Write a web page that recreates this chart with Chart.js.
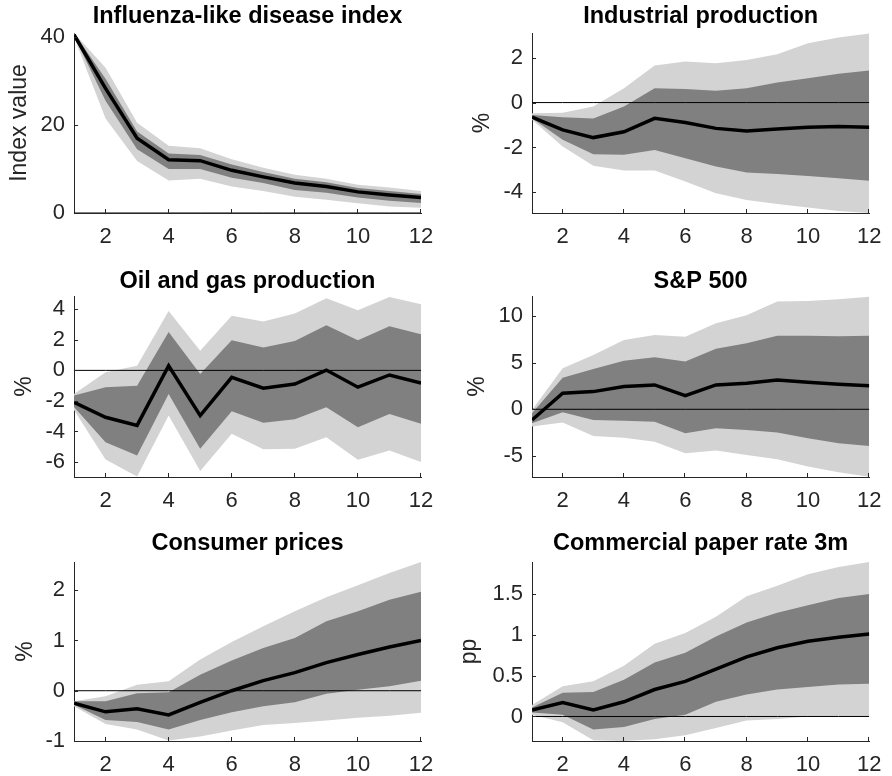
<!DOCTYPE html>
<html>
<head>
<meta charset="utf-8">
<script src="https://cdn.jsdelivr.net/npm/chart.js@4.4.0/dist/chart.umd.min.js"></script>
<style>
  body { margin: 0; background: #fff; width: 892px; height: 776px; position: relative; overflow: hidden; }
  canvas { position: absolute; }
</style>
</head>
<body>
<canvas id="c1" width="446" height="260" style="left:0;top:0"></canvas>
<canvas id="c2" width="446" height="260" style="left:446px;top:0"></canvas>
<canvas id="c3" width="446" height="260" style="left:0;top:260px"></canvas>
<canvas id="c4" width="446" height="260" style="left:446px;top:260px"></canvas>
<canvas id="c5" width="446" height="256" style="left:0;top:520px"></canvas>
<canvas id="c6" width="446" height="256" style="left:446px;top:520px"></canvas>
<script>
// horizon (months) and tick marks
const steps = [1, 2, 3, 4, 5, 6, 7, 8, 9, 10, 11, 12];
const xTicks = [2, 4, 6, 8, 10, 12];

// Influenza-like disease index
const fluMedian  = [40.5, 28.3, 17.0, 12.1, 11.9, 9.7, 8.2, 6.8, 6.0, 4.8, 4.1, 3.5];
const fluInnerHi = [40.9, 30.5, 18.5, 13.5, 13.2, 11.0, 9.3, 7.8, 7.0, 5.7, 5.0, 4.3];
const fluInnerLo = [40.2, 25.5, 14.5, 10.0, 10.0, 8.0, 6.8, 5.2, 4.6, 3.5, 2.8, 2.3];
const fluOuterHi = [40.9, 33.0, 20.5, 15.3, 14.7, 12.2, 10.3, 8.7, 7.8, 6.4, 5.8, 5.0];
const fluOuterLo = [40.0, 21.5, 11.8, 7.4, 7.8, 6.0, 5.0, 3.7, 3.0, 2.2, 1.5, 1.2];

// Industrial production
const ipMedian  = [-0.65, -1.22, -1.56, -1.30, -0.70, -0.89, -1.15, -1.27, -1.18, -1.10, -1.07, -1.10];
const ipInnerHi = [-0.55, -0.65, -0.71, -0.18, 0.64, 0.60, 0.53, 0.64, 0.90, 1.08, 1.28, 1.43];
const ipInnerLo = [-0.70, -1.66, -2.30, -2.33, -2.11, -2.48, -2.85, -3.12, -3.18, -3.27, -3.37, -3.48];
const ipOuterHi = [-0.48, -0.45, -0.18, 0.64, 1.65, 1.83, 1.75, 1.90, 2.15, 2.64, 2.90, 3.08];
const ipOuterLo = [-0.77, -1.96, -2.81, -3.03, -3.03, -3.52, -4.04, -4.34, -4.52, -4.68, -4.83, -4.92];

// Oil and gas production
const oilMedian  = [-2.09, -3.07, -3.60, 0.30, -2.96, -0.46, -1.17, -0.89, 0.02, -1.10, -0.30, -0.83];
const oilInnerHi = [-1.65, -1.10, -1.00, 2.52, -0.24, 1.98, 1.50, 1.93, 2.96, 1.98, 2.89, 2.37];
const oilInnerLo = [-2.40, -4.70, -5.57, -1.54, -5.13, -2.67, -3.43, -3.20, -2.41, -3.72, -2.85, -3.50];
const oilOuterHi = [-1.54, -0.13, 0.30, 3.89, 1.28, 3.57, 3.20, 3.72, 4.72, 3.93, 4.80, 4.33];
const oilOuterLo = [-2.59, -5.83, -6.95, -2.96, -6.59, -4.15, -5.17, -5.13, -4.37, -5.85, -5.24, -6.00];

// S&P 500
const spMedian  = [-1.15, 1.72, 1.90, 2.44, 2.62, 1.47, 2.62, 2.80, 3.15, 2.90, 2.69, 2.54];
const spInnerHi = [-0.43, 3.40, 4.34, 5.23, 5.60, 5.13, 6.50, 7.10, 7.90, 7.90, 7.85, 7.90];
const spInnerLo = [-1.50, -0.32, -1.15, -1.22, -1.33, -2.58, -2.04, -2.22, -2.50, -3.12, -3.66, -3.94];
const spOuterHi = [-0.07, 4.40, 5.84, 7.45, 8.00, 7.80, 9.25, 10.10, 11.60, 11.65, 11.83, 12.10];
const spOuterLo = [-1.86, -1.43, -2.87, -3.05, -3.48, -4.73, -4.44, -4.91, -5.38, -6.16, -6.77, -7.25];

// Consumer prices
const cpiMedian  = [-0.25, -0.42, -0.36, -0.48, -0.23, 0.00, 0.20, 0.36, 0.56, 0.72, 0.87, 1.00];
const cpiInnerHi = [-0.21, -0.21, -0.05, -0.03, 0.32, 0.60, 0.85, 1.05, 1.38, 1.58, 1.81, 1.97];
const cpiInnerLo = [-0.28, -0.58, -0.62, -0.77, -0.58, -0.43, -0.31, -0.23, -0.06, 0.02, 0.09, 0.20];
const cpiOuterHi = [-0.21, -0.11, 0.12, 0.19, 0.62, 0.97, 1.28, 1.58, 1.86, 2.10, 2.34, 2.56];
const cpiOuterLo = [-0.31, -0.66, -0.77, -0.99, -0.91, -0.79, -0.68, -0.64, -0.59, -0.54, -0.50, -0.44];

// Commercial paper rate 3m
const cpMedian  = [0.08, 0.17, 0.08, 0.18, 0.33, 0.43, 0.58, 0.73, 0.84, 0.92, 0.97, 1.01];
const cpInnerHi = [0.11, 0.29, 0.30, 0.45, 0.66, 0.78, 0.98, 1.15, 1.27, 1.36, 1.45, 1.50];
const cpInnerLo = [0.05, 0.02, -0.16, -0.13, -0.03, 0.02, 0.18, 0.27, 0.33, 0.36, 0.39, 0.40];
const cpOuterHi = [0.14, 0.37, 0.43, 0.62, 0.89, 1.02, 1.22, 1.47, 1.60, 1.74, 1.83, 1.89];
const cpOuterLo = [0.02, -0.07, -0.29, -0.30, -0.28, -0.23, -0.14, -0.05, -0.03, 0.00, 0.00, 0.00];

const zeros = steps.map(() => 0);

const axisColor = '#262626';
const lightGrey = '#d3d3d3';
const darkGrey = '#808080';
Chart.defaults.font.family = "'Liberation Sans', Arial, sans-serif";

// layout per row / column of the 3x2 grid
const rows = [
  { titleTop: 2.9, titleBottom: 1.9, xAxisHeight: 47 },
  { titleTop: 7.8, titleBottom: 0, xAxisHeight: 43 },
  { titleTop: 9.2, titleBottom: 4.6, xAxisHeight: 35 }
];
const cols = [
  { yAxisWidth: 74, padRight: 25 },
  { yAxisWidth: 86, padRight: 13 }
];

const panels = [
  { id: 'c1', row: 0, col: 0, title: 'Influenza-like disease index', ylabel: 'Index value', labelPad: 6.2,
    median: fluMedian, innerHi: fluInnerHi, innerLo: fluInnerLo, outerHi: fluOuterHi, outerLo: fluOuterLo,
    yMin: 0, yMax: 40.9, yTicks: [0, 20, 40] },
  { id: 'c2', row: 0, col: 1, title: 'Industrial production', ylabel: '%', labelPad: 23.2,
    median: ipMedian, innerHi: ipInnerHi, innerLo: ipInnerLo, outerHi: ipOuterHi, outerLo: ipOuterLo,
    yMin: -4.92, yMax: 3.1, yTicks: [-4, -2, 0, 2] },
  { id: 'c3', row: 1, col: 0, title: 'Oil and gas production', ylabel: '%', labelPad: 11.2,
    median: oilMedian, innerHi: oilInnerHi, innerLo: oilInnerLo, outerHi: oilOuterHi, outerLo: oilOuterLo,
    yMin: -6.98, yMax: 4.87, yTicks: [-6, -4, -2, 0, 2, 4] },
  { id: 'c4', row: 1, col: 1, title: 'S&P 500', ylabel: '%', labelPad: 18.2,
    median: spMedian, innerHi: spInnerHi, innerLo: spInnerLo, outerHi: spOuterHi, outerLo: spOuterLo,
    yMin: -7.28, yMax: 12.18, yTicks: [-5, 0, 5, 10] },
  { id: 'c5', row: 2, col: 0, title: 'Consumer prices', ylabel: '%', labelPad: 11.5,
    median: cpiMedian, innerHi: cpiInnerHi, innerLo: cpiInnerLo, outerHi: cpiOuterHi, outerLo: cpiOuterLo,
    yMin: -1, yMax: 2.56, yTicks: [-1, 0, 1, 2] },
  { id: 'c6', row: 2, col: 1, title: 'Commercial paper rate 3m', ylabel: 'pp', labelPad: 10.2,
    median: cpMedian, innerHi: cpInnerHi, innerLo: cpInnerLo, outerHi: cpOuterHi, outerLo: cpOuterLo,
    yMin: -0.3, yMax: 1.89, yTicks: [0, 0.5, 1, 1.5] }
];

// MATLAB-style ticks pointing into the axes
const inwardTicks = {
  id: 'inwardTicks',
  afterDraw(chart) {
    const { ctx, chartArea, scales: { x, y } } = chart;
    ctx.save();
    ctx.strokeStyle = axisColor;
    ctx.lineWidth = 1;
    ctx.beginPath();
    x.ticks.forEach(t => {
      const px = Math.round(x.getPixelForValue(t.value)) - 0.5;
      ctx.moveTo(px, chartArea.bottom);
      ctx.lineTo(px, chartArea.bottom - 4);
    });
    y.ticks.forEach(t => {
      const py = Math.round(y.getPixelForValue(t.value)) + 0.5;
      ctx.moveTo(chartArea.left, py);
      ctx.lineTo(chartArea.left + 4, py);
    });
    ctx.stroke();
    ctx.restore();
  }
};

const pts = arr => arr.map((v, i) => ({ x: steps[i], y: v }));
const band = (data, color, fill) => ({
  data: pts(data), borderWidth: 0, pointRadius: 0, backgroundColor: color, fill: fill
});

panels.forEach(p => {
  const row = rows[p.row], col = cols[p.col];
  new Chart(document.getElementById(p.id), {
    type: 'line',
    data: {
      datasets: [
        { data: pts(p.median), borderColor: '#000', borderWidth: 3.5, pointRadius: 0, fill: false },
        { data: pts(zeros), borderColor: '#000', borderWidth: 1, pointRadius: 0, fill: false },
        band(p.innerHi, darkGrey, '+1'),
        band(p.innerLo, darkGrey, false),
        band(p.outerHi, lightGrey, '+1'),
        band(p.outerLo, lightGrey, false)
      ]
    },
    options: {
      responsive: false,
      animation: false,
      layout: { padding: { left: 0, right: col.padRight, top: 0, bottom: 0 } },
      plugins: {
        legend: { display: false },
        tooltip: { enabled: false },
        title: {
          display: true, text: p.title, fullSize: false, color: '#000',
          font: { size: 23.5, weight: 'bold', lineHeight: 1.2 },
          padding: { top: row.titleTop, bottom: row.titleBottom }
        }
      },
      scales: {
        x: {
          type: 'linear', min: 1, max: 12,
          afterBuildTicks: axis => { axis.ticks = xTicks.map(v => ({ value: v })); },
          afterFit: axis => { axis.height = row.xAxisHeight; },
          grid: { display: true, drawOnChartArea: false, drawTicks: false },
          border: { display: true, color: axisColor, width: 1 },
          ticks: { color: axisColor, font: { size: 22 }, padding: 10.5, maxRotation: 0, callback: v => String(v) }
        },
        y: {
          type: 'linear', min: p.yMin, max: p.yMax,
          afterBuildTicks: axis => { axis.ticks = p.yTicks.map(v => ({ value: v })); },
          afterFit: axis => { axis.width = col.yAxisWidth; },
          grid: { display: true, drawOnChartArea: false, drawTicks: false },
          border: { display: true, color: axisColor, width: 1 },
          ticks: { color: axisColor, font: { size: 22 }, padding: 9, callback: v => String(v) },
          title: {
            display: true, text: p.ylabel, color: axisColor,
            font: { size: 23 }, padding: { top: p.labelPad, bottom: 0 }
          }
        }
      }
    },
    plugins: [inwardTicks]
  });
});
</script>
</body>
</html>
